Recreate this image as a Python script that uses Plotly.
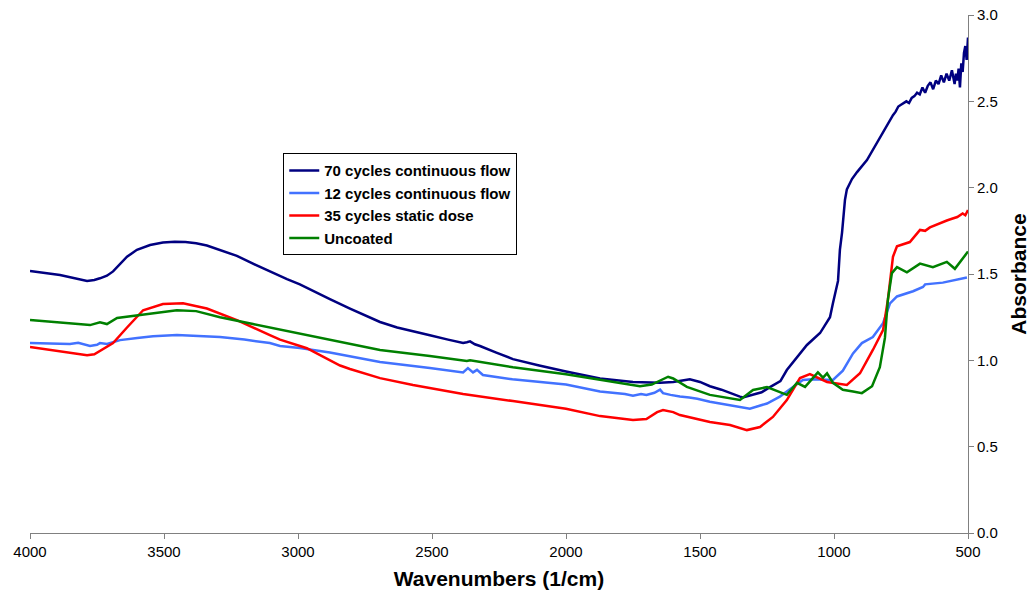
import plotly.graph_objects as go

# ---- data ----
wn_70 = [4000, 3888, 3787, 3760, 3739, 3713, 3690, 3664, 3638, 3601, 3552, 3504, 3460, 3420, 3380, 3340,
         3291, 3228, 3168, 3105, 3041, 2993, 2930, 2881, 2806, 2750, 2694, 2630, 2571, 2508, 2440, 2384,
         2370, 2358, 2340, 2321, 2260, 2198, 2100, 2000, 1873, 1750, 1649, 1600, 1560, 1538, 1500, 1463,
         1420, 1388, 1351, 1340, 1300, 1270, 1239, 1200, 1176, 1127, 1101, 1052, 1015, 1004, 985, 978,
         970, 959, 952, 933, 914, 877, 855, 829, 800, 790, 780, 770, 760, 750, 740, 730, 720, 710, 700,
         690, 680, 670, 660, 650, 640, 630, 620, 610, 600, 590, 580, 570, 560, 550, 545, 540, 535, 530,
         525, 520, 515, 510, 505, 500]
ab_70 = [1.517, 1.494, 1.460, 1.465, 1.475, 1.490, 1.515, 1.555, 1.600, 1.640, 1.668, 1.682, 1.687, 1.685,
         1.678, 1.665, 1.640, 1.605, 1.560, 1.515, 1.470, 1.440, 1.390, 1.355, 1.300, 1.260, 1.222, 1.190,
         1.170, 1.145, 1.120, 1.100, 1.105, 1.110, 1.093, 1.083, 1.045, 1.007, 0.970, 0.935, 0.895, 0.875,
         0.870, 0.875, 0.885, 0.890, 0.875, 0.850, 0.830, 0.810, 0.790, 0.785, 0.800, 0.815, 0.845, 0.880,
         0.944, 1.040, 1.089, 1.158, 1.250, 1.330, 1.460, 1.640, 1.740, 1.930, 1.990, 2.050, 2.090, 2.160,
         2.220, 2.290, 2.370, 2.400, 2.420, 2.440, 2.470, 2.480, 2.490, 2.500, 2.490, 2.520, 2.530, 2.550,
         2.540, 2.580, 2.550, 2.590, 2.610, 2.570, 2.620, 2.600, 2.650, 2.610, 2.660, 2.620, 2.680, 2.600,
         2.660, 2.620, 2.690, 2.580, 2.720, 2.670, 2.780, 2.820, 2.740, 2.870]

wn_12 = [4000, 3900, 3851, 3820, 3787, 3776, 3750, 3739, 3713, 3664, 3600, 3541, 3452, 3380, 3291, 3200,
         3105, 3067, 2993, 2881, 2694, 2508, 2384, 2366, 2347, 2332, 2310, 2200, 2000, 1873, 1780, 1750,
         1720, 1700, 1670, 1649, 1638, 1610, 1575, 1540, 1510, 1463, 1420, 1351, 1314, 1250, 1202, 1153,
         1116, 1079, 1004, 967, 929, 896, 855, 817, 791, 765, 705, 668, 660, 594, 504]
ab_12 = [1.100, 1.097, 1.094, 1.102, 1.085, 1.083, 1.090, 1.100, 1.095, 1.117, 1.130, 1.140, 1.146, 1.143,
         1.135, 1.120, 1.100, 1.083, 1.072, 1.045, 0.990, 0.955, 0.930, 0.955, 0.930, 0.945, 0.915, 0.890,
         0.860, 0.820, 0.805, 0.795, 0.805, 0.800, 0.812, 0.830, 0.810, 0.800, 0.790, 0.785, 0.778, 0.760,
         0.748, 0.730, 0.720, 0.750, 0.790, 0.845, 0.886, 0.890, 0.886, 0.940, 1.040, 1.100, 1.135, 1.215,
         1.330, 1.370, 1.400, 1.425, 1.440, 1.450, 1.480]

wn_35 = [4000, 3900, 3787, 3760, 3739, 3690, 3638, 3578, 3504, 3429, 3340, 3228, 3105, 3067, 2981, 2967,
         2930, 2880, 2843, 2806, 2694, 2571, 2384, 2198, 2000, 1873, 1750, 1700, 1660, 1638, 1600, 1575,
         1463, 1388, 1325, 1276, 1228, 1176, 1127, 1090, 1026, 952, 903, 855, 817, 799, 780, 765, 717,
         679, 660, 642, 620, 600, 579, 560, 540, 520, 510, 500]
ab_35 = [1.077, 1.055, 1.030, 1.035, 1.054, 1.100, 1.190, 1.290, 1.326, 1.330, 1.300, 1.233, 1.146, 1.120,
         1.077, 1.070, 1.040, 1.000, 0.970, 0.950, 0.897, 0.857, 0.805, 0.764, 0.720, 0.677, 0.654, 0.660,
         0.700, 0.712, 0.700, 0.683, 0.643, 0.625, 0.596, 0.614, 0.672, 0.770, 0.897, 0.920, 0.875, 0.857,
         0.925, 1.060, 1.175, 1.350, 1.600, 1.660, 1.685, 1.755, 1.750, 1.770, 1.785, 1.800, 1.810, 1.820,
         1.830, 1.850, 1.840, 1.870]

wn_un = [4000, 3900, 3776, 3739, 3713, 3675, 3601, 3500, 3452, 3380, 3291, 3168, 3105, 2918, 2881, 2694,
         2508, 2370, 2358, 2198, 2000, 1873, 1724, 1680, 1619, 1600, 1549, 1463, 1351, 1302, 1250, 1176,
         1138, 1108, 1060, 1041, 1026, 1004, 967, 929, 896, 858, 829, 810, 799, 784, 765, 728, 679, 631,
         579, 549, 511, 500]
ab_un = [1.233, 1.220, 1.204, 1.220, 1.210, 1.245, 1.260, 1.280, 1.290, 1.285, 1.250, 1.210, 1.190, 1.130,
         1.117, 1.060, 1.025, 0.996, 1.000, 0.960, 0.920, 0.886, 0.850, 0.860, 0.905, 0.895, 0.846, 0.800,
         0.770, 0.828, 0.845, 0.800, 0.870, 0.846, 0.930, 0.900, 0.925, 0.870, 0.830, 0.820, 0.810, 0.850,
         0.960, 1.130, 1.350, 1.505, 1.540, 1.510, 1.560, 1.540, 1.570, 1.530, 1.610, 1.630]

series = [
    ("70 cycles continuous flow", wn_70, ab_70, "#000080"),
    ("12 cycles continuous flow", wn_12, ab_12, "#4272FF"),
    ("35 cycles static dose", wn_35, ab_35, "#FF0000"),
    ("Uncoated", wn_un, ab_un, "#008000"),
]

x_ticks = [4000, 3500, 3000, 2500, 2000, 1500, 1000, 500]
y_ticks = [0.0, 0.5, 1.0, 1.5, 2.0, 2.5, 3.0]

fig = go.Figure()
for name, x, y, c in series:
    fig.add_trace(go.Scatter(x=x, y=y, mode="lines", name="<b>" + name + "</b>",
                             line=dict(color=c, width=2.5)))

fig.update_layout(
    width=1032, height=597,
    margin=dict(l=30, r=64, t=15, b=64),
    plot_bgcolor="white", paper_bgcolor="white",
    font=dict(family="Arial, Liberation Sans, sans-serif", size=15, color="black"),
    showlegend=True,
    legend=dict(x=0.27, y=0.733, xanchor="left", yanchor="top",
                bgcolor="white", bordercolor="black", borderwidth=1,
                font=dict(size=15, color="black"), tracegroupgap=0,
                itemwidth=30),
)
fig.update_xaxes(range=[4000, 500], tickvals=x_ticks, ticktext=[str(v) for v in x_ticks],
                 showgrid=False, zeroline=False, showline=True, linecolor="#808080", linewidth=1,
                 ticks="outside", ticklen=5, tickcolor="#808080", tickfont=dict(size=15),
                 automargin=False,
                 title=dict(text="<b>Wavenumbers (1/cm)</b>", font=dict(size=21), standoff=12))
fig.update_yaxes(range=[0, 3.0], side="right", tickvals=y_ticks, ticktext=[f"{v:.1f}" for v in y_ticks],
                 showgrid=False, zeroline=False, showline=True, linecolor="#808080", linewidth=1,
                 ticks="outside", ticklen=5, tickcolor="#808080", tickfont=dict(size=15),
                 automargin=False,
                 title=dict(text="<b>Absorbance</b>", font=dict(size=21), standoff=14))

fig.write_html("out.html")
